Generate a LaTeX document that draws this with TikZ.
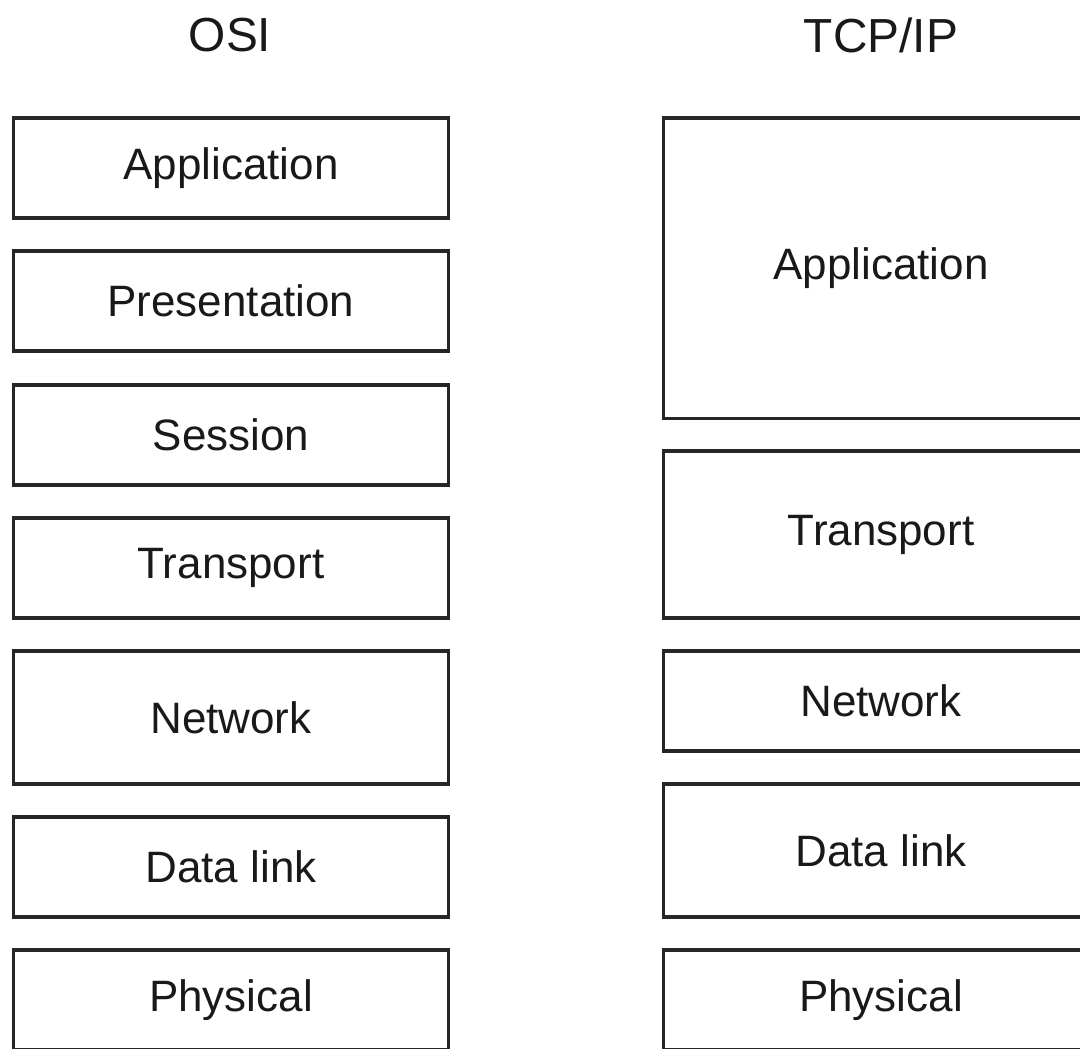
\documentclass[tikz,border=0pt]{standalone}
\usepackage{fontspec}
\setmainfont{Liberation Sans}
\usetikzlibrary{positioning}
\tikzset{
    mybox/.style = {rectangle, line width=0.9pt, draw=black!85, align=center, minimum width=4.34cm, inner sep=0pt, font=\fontsize{12.5}{15}\selectfont, text=black!90},
    mytitle/.style = {align=center, font=\fontsize{13.6}{16}\selectfont, text=black!90}
}
\begin{document}
\begin{tikzpicture}[x=0.01cm, y=-0.01cm]
\useasboundingbox (0,0) rectangle (1080,1048);
\clip (0,0) rectangle (1080,1048);

\node[mytitle] at ( 230,   35) (osi) {OSI};
\node[mytitle] at ( 881,   35) (tcp) {TCP/IP};

% OSI stack
\node[mybox, minimum height=1.00cm] at ( 231,  168.0) (oapp) {Application};
\node[mybox, minimum height=1.00cm] at ( 231,  301.0) (opre) {Presentation};
\node[mybox, minimum height=1.00cm] at ( 231,  435.0) (oses) {Session};
\node[mybox, minimum height=1.00cm] at ( 231,  568.0) (otra) {Transport};
\node[mybox, minimum height=1.33cm] at ( 231,  717.5) (onet) {Network};
\node[mybox, minimum height=1.00cm] at ( 231,  867.0) (odat) {Data link};
\node[mybox, minimum height=1.00cm] at ( 231, 1000.0) (ophy) {Physical};

% TCP/IP stack
\node[mybox, minimum height=3.00cm] at ( 881,  268.0) (tapp) {Application};
\node[mybox, minimum height=1.67cm] at ( 881,  534.5) (ttra) {Transport};
\node[mybox, minimum height=1.00cm] at ( 881,  701.0) (tnet) {Network};
\node[mybox, minimum height=1.33cm] at ( 881,  850.5) (tdat) {Data link};
\node[mybox, minimum height=1.00cm] at ( 881, 1000.0) (tphy) {Physical};

\end{tikzpicture}
\end{document}
